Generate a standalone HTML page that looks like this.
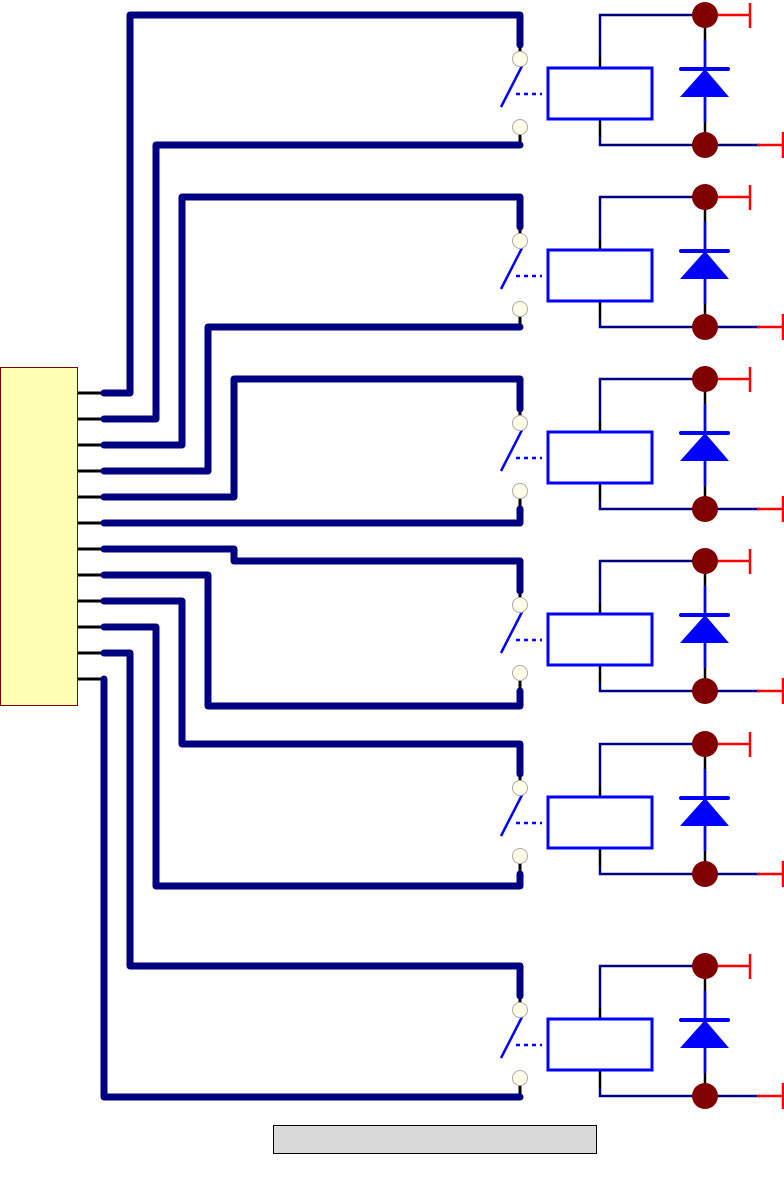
<!DOCTYPE html>
<html><head><style>html,body{margin:0;padding:0;background:#fff;}svg{display:block}</style></head>
<body>
<svg width="784" height="1183" viewBox="0 0 784 1183" xmlns="http://www.w3.org/2000/svg">
<defs>
<g id="r">
  <line x1="520" y1="31" x2="520" y2="44" stroke="#000" stroke-width="3"/>
  <line x1="520" y1="112" x2="520" y2="130" stroke="#000" stroke-width="3"/>
  <line x1="522" y1="51" x2="501" y2="92" stroke="#0000ff" stroke-width="2.5"/>
  <line x1="516" y1="79" x2="542" y2="79" stroke="#0000ff" stroke-width="2.5" stroke-dasharray="4 4"/>
  <circle cx="520" cy="44" r="7.5" fill="#ffffe8" stroke="#aaa" stroke-width="1"/>
  <circle cx="520" cy="112" r="7.5" fill="#ffffe8" stroke="#aaa" stroke-width="1"/>
  <polyline points="600,42 600,0 705,0" fill="none" stroke="#000080" stroke-width="2.5"/>
  <line x1="600" y1="42" x2="600" y2="53" stroke="#000" stroke-width="2.5"/>
  <line x1="600" y1="104" x2="600" y2="122" stroke="#000" stroke-width="2.5"/>
  <polyline points="600,122 600,130 760,130" fill="none" stroke="#000080" stroke-width="2.5"/>
  <rect x="548" y="53" width="104" height="51" fill="#fff" stroke="#0000ff" stroke-width="3"/>
  <line x1="705" y1="0" x2="750" y2="0" stroke="#ff0000" stroke-width="2.5"/>
  <line x1="750" y1="-12" x2="750" y2="13" stroke="#ff0000" stroke-width="2.5"/>
  <line x1="757" y1="130" x2="784" y2="130" stroke="#ff0000" stroke-width="2.5"/>
  <line x1="783" y1="117" x2="783" y2="143" stroke="#ff0000" stroke-width="2.5"/>
  <line x1="705" y1="0" x2="705" y2="130" stroke="#000" stroke-width="2.5"/>
  <line x1="705" y1="25" x2="705" y2="107" stroke="#0000ff" stroke-width="2.5"/>
  <line x1="681" y1="54" x2="728" y2="54" stroke="#0000ff" stroke-width="4" stroke-linecap="round"/>
  <polygon points="705,54 680,82 729,82" fill="#0000ff"/>
  <circle cx="705" cy="0" r="13" fill="#800000"/>
  <circle cx="705" cy="130" r="13" fill="#800000"/>
</g>
</defs>
<rect x="0.5" y="367.5" width="77" height="338" fill="#ffffb4" stroke="#800000" stroke-width="1"/>
<g stroke="#000" stroke-width="3">
  <line x1="78" y1="393" x2="104" y2="393"/><line x1="78" y1="419" x2="104" y2="419"/>
  <line x1="78" y1="445" x2="104" y2="445"/><line x1="78" y1="471" x2="104" y2="471"/>
  <line x1="78" y1="497" x2="104" y2="497"/><line x1="78" y1="523" x2="104" y2="523"/>
  <line x1="78" y1="549" x2="104" y2="549"/><line x1="78" y1="575" x2="104" y2="575"/>
  <line x1="78" y1="601" x2="104" y2="601"/><line x1="78" y1="627" x2="104" y2="627"/>
  <line x1="78" y1="653" x2="104" y2="653"/><line x1="78" y1="679" x2="104" y2="679"/>
</g>
<use href="#r" transform="translate(0,15)"/>
<use href="#r" transform="translate(0,197)"/>
<use href="#r" transform="translate(0,379)"/>
<use href="#r" transform="translate(0,561)"/>
<use href="#r" transform="translate(0,744)"/>
<use href="#r" transform="translate(0,966)"/>
<g fill="none" stroke="#000080" stroke-width="7" stroke-linecap="round" stroke-linejoin="round">
  <polyline points="104,393 130,393 130,15 520,15 520,45"/>
  <polyline points="104,419 156,419 156,145 520,145"/>
  <polyline points="104,445 182,445 182,197 520,197 520,227"/>
  <polyline points="104,471 208,471 208,327 520,327"/>
  <polyline points="104,497 234,497 234,379 520,379 520,409"/>
  <polyline points="104,523 520,523 520,509"/>
  <polyline points="104,549 234,549 234,561 520,561 520,591"/>
  <polyline points="104,575 208,575 208,706 520,706 520,691"/>
  <polyline points="104,601 182,601 182,744 520,744 520,774"/>
  <polyline points="104,627 156,627 156,886 520,886 520,874"/>
  <polyline points="104,653 130,653 130,966 520,966 520,996"/>
  <polyline points="104,679 104,1097 520,1097"/>
</g>
<rect x="273.5" y="1125.5" width="323" height="28" fill="#d9d9d9" stroke="#000" stroke-width="1"/>
</svg>
</body></html>
